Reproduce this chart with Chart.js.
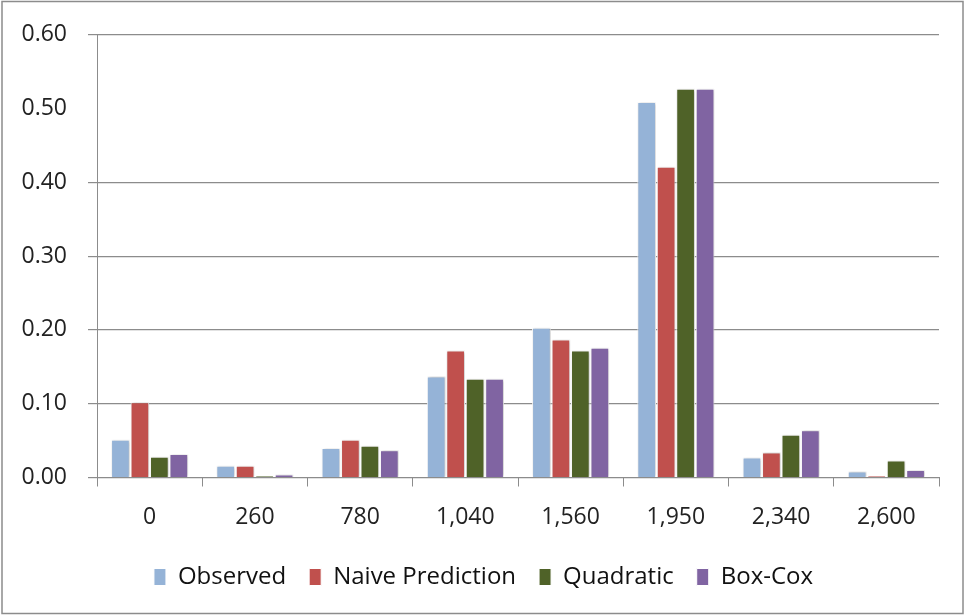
<!DOCTYPE html>
<html>
<head>
<meta charset="utf-8">
<script src="https://cdn.jsdelivr.net/npm/chart.js@4"></script>
<style>
  html, body { margin: 0; padding: 0; background: #fff; }
  #wrap { width: 965px; height: 615px; position: relative; }
</style>
</head>
<body>
<div id="wrap"><canvas id="chart" width="965" height="615"></canvas></div>
<script>
// categories and series
const categories = ['0', '260', '780', '1,040', '1,560', '1,950', '2,340', '2,600'];
const observed = [0.051, 0.016, 0.040, 0.137, 0.203, 0.509, 0.027, 0.008];
const naive = [0.102, 0.016, 0.051, 0.172, 0.187, 0.421, 0.034, 0.002];
const quadratic = [0.028, 0.002, 0.043, 0.134, 0.172, 0.527, 0.058, 0.023];
const boxCox = [0.032, 0.004, 0.037, 0.134, 0.176, 0.527, 0.064, 0.010];
const yTicks = [0, 0.1, 0.2, 0.3, 0.4, 0.5, 0.6];

const tickFont = { family: "'Open Sans', 'DejaVu Sans', sans-serif", size: 23 };

function series(label, data, color) {
    return {
        label: label,
        data: data,
        backgroundColor: color,
        borderColor: '#ffffff',
        borderWidth: 1,
        borderSkipped: 'bottom'
    };
}

// soft shadow behind bars, legend nudge, outer frame
const decor = {
    id: 'decor',
    afterLayout(chart) {
        chart.legend.left += 14;
        chart.legend.right += 14;
    },
    beforeDatasetsDraw(chart) {
        const ctx = chart.ctx;
        ctx.save();
        ctx.shadowColor = 'rgba(0,0,0,0.25)';
        ctx.shadowBlur = 3;
        ctx.shadowOffsetX = 1;
        ctx.shadowOffsetY = 0;
    },
    afterDatasetsDraw(chart) {
        chart.ctx.restore();
    },
    afterDraw(chart) {
        const ctx = chart.ctx;
        ctx.save();
        ctx.strokeStyle = '#8c8c8c';
        ctx.lineWidth = 1.5;
        ctx.strokeRect(2, 1.5, chart.width - 4, chart.height - 3);
        ctx.restore();
    }
};

new Chart(document.getElementById('chart'), {
    type: 'bar',
    data: {
        labels: categories,
        datasets: [
            series('Observed', observed, '#95B3D7'),
            series('Naive Prediction', naive, '#C0504D'),
            series('Quadratic', quadratic, '#4F6228'),
            series('Box-Cox', boxCox, '#8064A2')
        ]
    },
    options: {
        responsive: false,
        animation: false,
        layout: { padding: { left: 0, right: 26, top: 20, bottom: 16 } },
        datasets: {
            bar: { categoryPercentage: 0.74, barPercentage: 0.96 }
        },
        scales: {
            x: {
                grid: {
                    offset: true,
                    drawOnChartArea: false,
                    drawTicks: true,
                    tickLength: 9,
                    color: '#8c8c8c'
                },
                border: { color: '#8c8c8c', width: 1 },
                ticks: { color: '#222', font: tickFont, padding: 17 },
                afterFit(scale) { scale.height = 64.5; }
            },
            y: {
                min: 0,
                max: 0.6,
                afterBuildTicks(scale) {
                    scale.ticks = yTicks.map(v => ({ value: v }));
                },
                grid: {
                    color: ctx => (ctx.tick && Math.abs(ctx.tick.value - 0.5) < 1e-9) ? 'rgba(0,0,0,0)' : '#8c8c8c',
                    lineWidth: 1.2,
                    tickLength: 9
                },
                border: { color: '#8c8c8c', width: 1 },
                ticks: {
                    color: '#222',
                    font: tickFont,
                    padding: 21,
                    callback: v => Number(v).toFixed(2)
                },
                afterFit(scale) { scale.width = 97; }
            }
        },
        plugins: {
            legend: {
                position: 'bottom',
                labels: {
                    color: '#111',
                    font: { family: "'Open Sans', sans-serif", size: 24 },
                    boxWidth: 12,
                    boxHeight: 17,
                    padding: 23
                }
            },
            tooltip: { enabled: false }
        }
    },
    plugins: [decor]
});
</script>
</body>
</html>
